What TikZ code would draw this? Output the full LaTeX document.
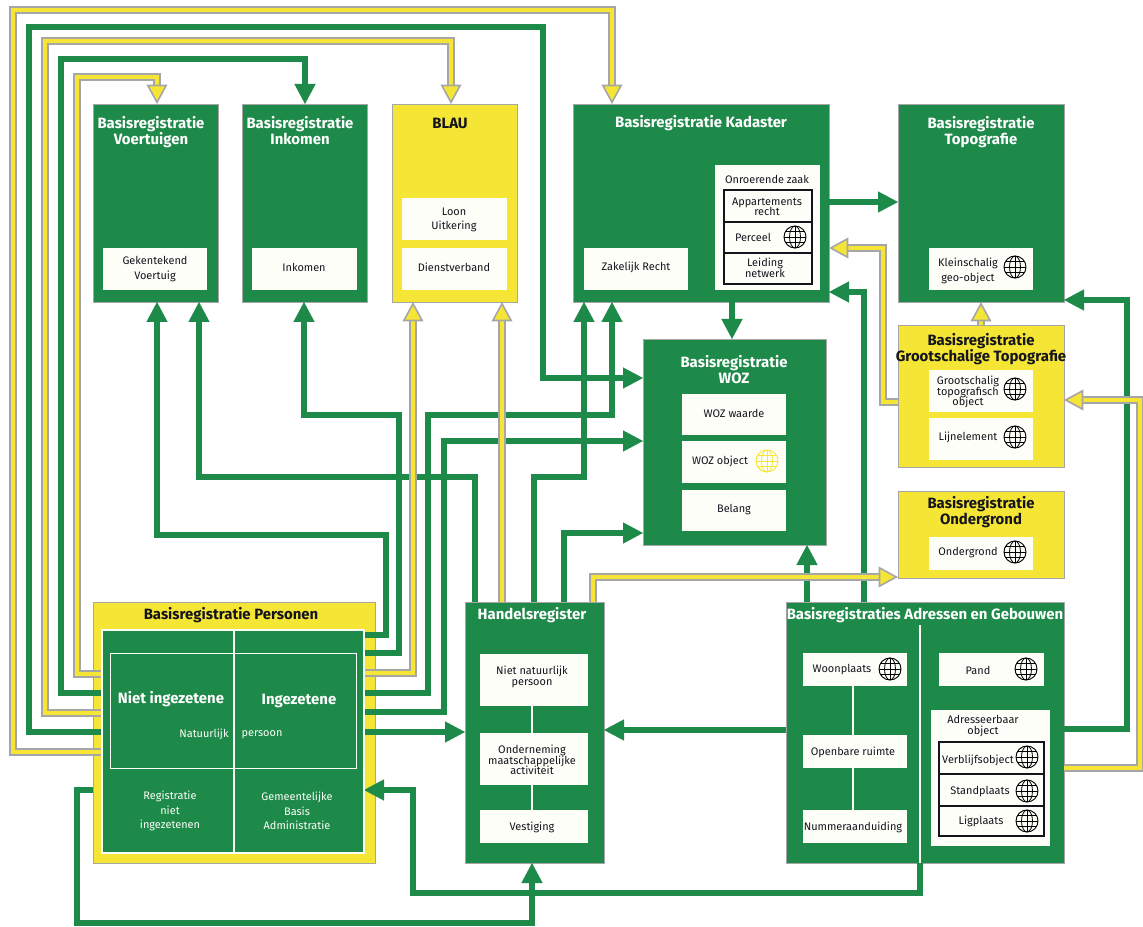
\documentclass[tikz,border=0pt]{standalone}
\usepackage{fontspec}
\setmainfont{Fira Sans}
\usetikzlibrary{arrows.meta}
\definecolor{rgreen}{HTML}{1E8A4A}
\definecolor{ryellow}{HTML}{F5E635}
\definecolor{redge}{HTML}{A6A6A6}
\definecolor{rcell}{HTML}{FEFEF8}
\definecolor{rink}{HTML}{14141E}
\newcommand{\tightlines}{\lineskiplimit=-20pt\relax}
\newcommand{\ttlfont}{\fontsize{11.2}{12.2}\selectfont\bfseries\tightlines}
\newcommand{\lblfont}{\fontsize{8.2}{11}\selectfont\tightlines}
\newcommand{\lbtfont}{\fontsize{8.2}{7.8}\selectfont\tightlines}
\tikzset{
 x=0.75pt,y=-0.75pt,
 gbox/.style={fill=rgreen,draw=redge,line width=0.6pt,inner sep=0pt,outer sep=0pt},
 ybox/.style={fill=ryellow,draw=redge,line width=0.6pt,inner sep=0pt,outer sep=0pt},
 cell/.style={fill=rcell,draw=none,inner sep=0pt,outer sep=0pt},
 rowbox/.style={fill=none,draw=rink,line width=0.9pt,inner sep=0pt,outer sep=0pt},
 wbox/.style={fill=none,draw=rcell,line width=0.7pt,inner sep=0pt,outer sep=0pt},
 ttl/.style={align=center,inner sep=0pt,font=\ttlfont},
 wttl/.style={ttl,text=white},
 bttl/.style={ttl,text=rink},
 lbl/.style={align=center,inner sep=0pt,text=rink,font=\lblfont},
 lbt/.style={align=center,inner sep=0pt,text=rink,font=\lbtfont},
 wlbl/.style={lbl,text=rcell},
 gconn/.style={draw=redge,line width=0.45pt,double=rgreen,double distance=3.9pt,line join=miter,
   -{Triangle[length=15pt,width=16pt,fill=rgreen,color=rgreen,line width=0pt]}},
 yconn/.style={draw=redge,line width=1.3pt,double=ryellow,double distance=2.8pt,line join=miter,
   -{Triangle[length=14.5pt,width=15.5pt,fill=ryellow,color=redge,line width=1.2pt]}},
 wsep/.style={draw=rcell,line width=1pt},
 globe/.pic={
   \draw[pic actions,line width=0.7pt,fill=none] (0,0) circle[radius=11];
   \draw[pic actions,line width=0.6pt,fill=none] (0,0) ellipse[x radius=5.5,y radius=11];
   \draw[pic actions,line width=0.6pt] (0,-11) -- (0,11) (-11,0) -- (11,0)
      (-9.6,-5.2) -- (9.6,-5.2) (-9.6,5.2) -- (9.6,5.2);
 }
}
\newcommand{\bx}[7]{\node[#1,minimum width={(#5-#3)*0.75pt},minimum height={(#6-#4)*0.75pt}] (#2) at ({(#3+#5)/2},{(#4+#6)/2}) {#7};}
\newcommand{\tx}[5][lbl]{\node[#1] (#2) at (#3,#4) {#5};}
\begin{document}
\begin{tikzpicture}
\useasboundingbox (0,0) rectangle (1143,927);
\fill[white] (0,0) rectangle (1143,927);
% ---- boxes
\bx{gbox}{vt}{93}{104}{218}{302}{}
\bx{gbox}{ink}{242}{104}{367}{302}{}
\bx{ybox}{blau}{392}{104}{517}{302}{}
\bx{gbox}{kad}{573}{104}{829}{302}{}
\bx{gbox}{top}{898}{104}{1064}{302}{}
\bx{ybox}{gt}{898}{325}{1064}{467}{}
\bx{gbox}{woz}{643}{339}{826}{545}{}
\bx{ybox}{ond}{898}{491}{1064}{578}{}
\bx{ybox}{brp}{93}{602}{375}{863}{}
\bx{gbox}{hr}{465}{602}{604}{863}{}
\bx{gbox}{bag}{786}{602}{1064}{863}{}
\bx{gbox}{brpin}{102}{630}{364}{853}{}
% ---- green connectors
\draw[gconn] (brpin.east |- 0,635) -- (386,635) -- (386,535) -- (157,535) -- (vt.south -| 157,0);
\draw[gconn] (brpin.east |- 0,653) -- (399,653) -- (399,415) -- (304,415) -- (ink.south -| 304,0);
\draw[gconn] (brpin.east |- 0,693) -- (428,693) -- (428,415) -- (612,415) -- (kad.south -| 612,0);
\draw[gconn] (brpin.east |- 0,712) -- (444,712) -- (444,441) -- (woz.west |- 0,441);
\draw[gconn] (brpin.east |- 0,732) -- (hr.west |- 0,732);
\draw[gconn] (hr.north -| 475,0) -- (475,477) -- (199,477) -- (vt.south -| 199,0);
\draw[gconn] (hr.north -| 534,0) -- (534,477) -- (584,477) -- (kad.south -| 584,0);
\draw[gconn] (hr.north -| 564,0) -- (564,533) -- (woz.west |- 0,533);
\draw[gconn] (brpin.west |- 0,732) -- (29,732) -- (29,27) -- (543,27) -- (543,378) -- (woz.west |- 0,378);
\draw[gconn] (brpin.west |- 0,693) -- (61,693) -- (61,59) -- (305,59) -- (ink.north -| 305,0);
\draw[gconn] (brp.west |- 0,790) -- (77,790) -- (77,923) -- (532,923) -- (hr.south -| 532,0);
\draw[gconn] (bag.south -| 920,0) -- (920,893) -- (413,893) -- (413,790) -- (brpin.east |- 0,790);
\draw[gconn] (bag.west |- 0,730) -- (hr.east |- 0,730);
\draw[gconn] (bag.north -| 807,0) -- (woz.south -| 807,0);
\draw[gconn] (bag.north -| 864,0) -- (864,292) -- (kad.east |- 0,292);
\draw[gconn] (bag.east |- 0,729) -- (1127,729) -- (1127,300) -- (top.east |- 0,300);
\draw[gconn] (kad.east |- 0,202) -- (top.west |- 0,202);
\draw[gconn] (kad.south -| 732,0) -- (woz.north -| 732,0);
% ---- yellow connectors
\draw[yconn] (brpin.east |- 0,673) -- (413,673) -- (blau.south -| 413,0);
\draw[yconn] (hr.north -| 502,0) -- (blau.south -| 502,0);
\draw[yconn] (hr.north -| 593,0) -- (593,577) -- (ond.west |- 0,577);
\draw[yconn] (brpin.west |- 0,752) -- (13,752) -- (13,10) -- (612,10) -- (kad.north -| 612,0);
\draw[yconn] (brpin.west |- 0,713) -- (45,713) -- (45,41) -- (451,41) -- (blau.north -| 451,0);
\draw[yconn] (brpin.west |- 0,674) -- (77,674) -- (77,77) -- (157,77) -- (vt.north -| 157,0);
\draw[yconn] (bag.east |- 0,768) -- (1140,768) -- (1140,400) -- (gt.east |- 0,400);
\draw[yconn] (gt.north -| 981,0) -- (top.south -| 981,0);
\draw[yconn] (gt.west |- 0,402) -- (883,402) -- (883,248) -- (kad.east |- 0,248);
% ---- BRP interior
\bx{wbox}{brpnat}{110}{653}{356}{768}{}
\draw[wsep] (brpin.north -| 234,0) -- (brpin.south -| 234,0);
\draw[rcell,line width=0.9pt] (brpin.south west) rectangle (brpin.north east);
% ---- cells
\bx{cell}{cvt}{103}{248}{207}{290}{}
\bx{cell}{cink}{252}{248}{357}{290}{}
\bx{cell}{cloon}{402}{198}{507}{240}{}
\bx{cell}{cdv}{402}{248}{507}{290}{}
\bx{cell}{czr}{584}{248}{688}{290}{}
\bx{cell}{coz}{715}{165}{820}{290}{}
\bx{rowbox}{rapp}{724}{190}{812}{222}{}
\bx{rowbox}{rper}{724}{222}{812}{253}{}
\bx{rowbox}{rlei}{724}{253}{812}{284}{}
\bx{cell}{ckl}{929}{248}{1033}{290}{}
\bx{cell}{cgr}{929}{370}{1033}{412}{}
\bx{cell}{clij}{929}{418}{1033}{460}{}
\bx{cell}{cwz}{682}{394}{786}{435}{}
\bx{cell}{cwo}{682}{441}{786}{483}{}
\bx{cell}{cbel}{682}{490}{786}{531}{}
\bx{cell}{cond}{929}{537}{1033}{570}{}
\draw[wsep] (532,706) -- (532,733) (532,785) -- (532,810);
\bx{cell}{cnn}{480}{654}{588}{706}{}
\bx{cell}{conm}{480}{733}{588}{785}{}
\bx{cell}{cves}{480}{810}{588}{843}{}
\draw[wsep] (853,686) -- (853,735) (853,768) -- (853,810);
\draw[wsep] (920,625) -- (bag.south -| 920,0);
\bx{cell}{cwp}{803}{653}{907}{686}{}
\bx{cell}{cor}{803}{735}{907}{768}{}
\bx{cell}{cna}{803}{810}{907}{843}{}
\bx{cell}{cpa}{939}{653}{1044}{686}{}
\bx{cell}{cao}{931}{710}{1050}{846}{}
\bx{rowbox}{rvb}{939}{742}{1044}{774}{}
\bx{rowbox}{rsp}{939}{774}{1044}{806}{}
\bx{rowbox}{rlp}{939}{806}{1044}{836}{}
% ---- globes
\foreach \gx/\gy in {795/237,1015/267,1015/389,1015/437,1015/552,890/669,1026/669,1027/757,1027/791,1027/821}
  \pic[draw=black] at (\gx,\gy) {globe};
\pic[draw=ryellow] at (767,461) {globe};
% ---- titles
\tx[wttl]{tvt}{151}{132}{Basisregistratie\\Voertuigen}
\tx[wttl]{tink}{300}{132}{Basisregistratie\\Inkomen\vphantom{g}}
\tx[bttl]{tblau}{450}{123}{BLAU}
\tx[wttl]{tkad}{701}{123}{Basisregistratie Kadaster}
\tx[wttl]{ttop}{981}{132}{Basisregistratie\\Topografie}
\tx[bttl]{tgt}{981}{349}{Basisregistratie\\Grootschalige Topografie}
\tx[wttl]{twoz}{734}{371}{Basisregistratie\\WOZ\vphantom{g}}
\tx[bttl]{tond}{981}{512}{Basisregistratie\\Ondergrond}
\tx[bttl]{tbrp}{231}{615}{Basisregistratie Personen}
\tx[wttl]{thr}{532}{615}{Handelsregister}
\tx[wttl]{tbag}{925}{615}{Basisregistraties Adressen en Gebouwen}
% ---- labels
\tx{lvt}{155}{269}{Gekentekend\\Voertuig}
\tx{link}{304}{267}{Inkomen}
\tx{lloon}{454}{220}{Loon\\Uitkering}
\tx{ldv}{454}{267}{Dienstverband}
\tx{lzr}{636}{267}{Zakelijk Recht}
\tx{loz}{767}{179}{Onroerende zaak}
\tx[lbt]{lapp}{767}{207}{Appartements\\recht}
\tx{lper}{753}{237}{Perceel}
\tx[lbt]{llei}{765}{268}{Leiding\\netwerk}
\tx{lkl}{968}{271}{Kleinschalig\\geo-object}
\tx[lbt]{lgr}{968}{392}{Grootschalig\\topografisch\\object}
\tx{llij}{968}{437}{Lijnelement}
\tx{lwz}{734}{413}{WOZ waarde}
\tx{lwo}{720}{461}{WOZ object}
\tx{lbel}{734}{510}{Belang}
\tx{lond}{968}{553}{Ondergrond}
\tx[lbt]{lnn}{532}{677}{Niet natuurlijk\\persoon}
\tx[lbt]{lonm}{532}{760}{Onderneming\\maatschappelijke\\activiteit}
\tx{lves}{532}{827}{Vestiging}
\tx{lwp}{842}{670}{Woonplaats}
\tx{lor}{853}{752}{Openbare ruimte}
\tx{lna}{853}{827}{Nummeraanduiding}
\tx{lpa}{978}{670}{Pand}
\tx[lbt]{lao}{983}{726}{Adresseerbaar\\object}
\tx{lvb}{978}{760}{Verblijfsobject}
\tx{lsp}{980}{792}{Standplaats}
\tx{llp}{981}{821}{Ligplaats}
\tx[wttl]{tni}{171}{699}{Niet ingezetene}
\tx[wttl]{tin}{299}{701}{Ingezetene}
\tx[wlbl]{lnat}{204}{734}{Natuurlijk}
\tx[wlbl]{lprs}{262}{735}{persoon}
\tx[wlbl]{lrni}{170}{811}{Registratie\\niet\\ingezetenen}
\tx[wlbl]{lgba}{297}{811}{Gemeentelijke\\Basis\\Administratie}
\end{tikzpicture}
\end{document}
